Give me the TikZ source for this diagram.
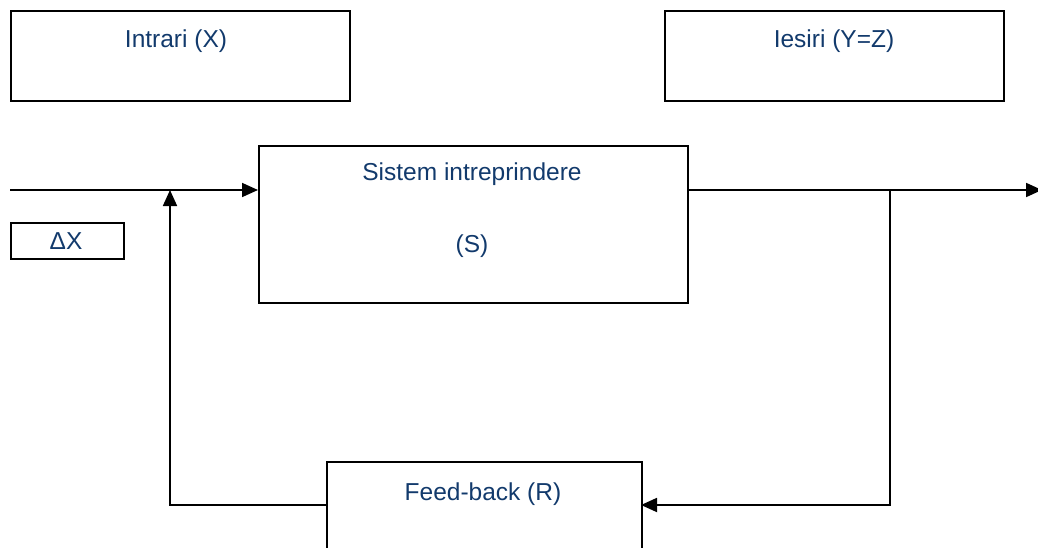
\documentclass[tikz,border=0pt]{standalone}
\usepackage{fontspec}
\setmainfont{Liberation Sans}
\usetikzlibrary{arrows.meta}
\definecolor{txtblue}{RGB}{18,58,108}
\tikzset{
  box/.style={draw=black, line width=1.8pt, rectangle, anchor=north west, inner sep=0pt},
  lbl/.style={text=txtblue, font=\fontsize{24.5pt}{29pt}\selectfont, inner sep=0pt},
  conn/.style={line width=1.8pt, -{Triangle[length=16pt,width=14pt]}},
  plain/.style={line width=1.8pt}
}
\begin{document}
\begin{tikzpicture}[x=1pt,y=-1pt]
\useasboundingbox (0,0) rectangle (1038,548);
% boxes
\node[box, minimum width=339pt, minimum height=90pt] (intr) at (10,10) {};
\node[lbl] (intrt) at (176,41) {Intrari (X)};
\node[box, minimum width=339pt, minimum height=90pt] (ies) at (664,10) {};
\node[lbl] (iest) at (834,41) {Iesiri (Y=Z)};
\node[box, minimum width=429pt, minimum height=157pt] (sys) at (258,145) {};
\node[lbl] (syst1) at (472,174) {Sistem intreprindere};
\node[lbl] (syst2) at (472,246) {(S)};
\node[box, minimum width=113pt, minimum height=36pt] (dx) at (10,222) {};
\node[lbl] (dxt) at (66,241) {ΔX};
\node[box, minimum width=315pt, minimum height=110pt] (fb) at (326,461) {};
\node[lbl] (fbt) at (483,494) {Feed-back (R)};
% coordinates
\coordinate (in0) at (10,190);
\coordinate (sysin) at (258,190);
\coordinate (sysout) at (687,190);
\coordinate (outend) at (1042,190);
\coordinate (split) at (890,190);
\coordinate (splitdown) at (890,505);
\coordinate (fbin) at (641,505);
\coordinate (fbout) at (326,505);
\coordinate (corner) at (170,505);
\coordinate (join) at (170,190);
% connectors
\draw[conn] (in0) -- (sysin);
\draw[conn] (sysout) -- (outend);
\draw[conn] (split) -- (splitdown) -- (fbin);
\draw[conn] (fbout) -- (corner) -- (join);
\end{tikzpicture}
\end{document}
